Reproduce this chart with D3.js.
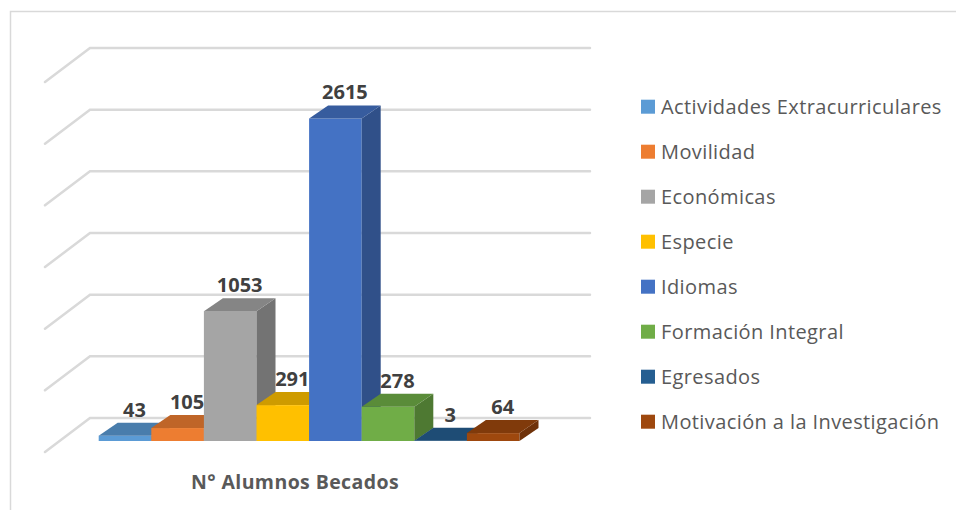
<!DOCTYPE html>
<html lang="es">
<head>
  <meta charset="UTF-8">
  <title>N° Alumnos Becados</title>
  <script src="https://d3js.org/d3.v7.min.js"></script>
  <style>
    body { margin: 0; background: #fff; }
    text { font-family: "Open Sans", sans-serif; }
    .grid { stroke: #d9d9d9; stroke-width: 2.5px; fill: none; stroke-linecap: round; }
    .label { font-size: 20px; font-weight: bold; fill: #404040; text-anchor: middle; }
    .legend { font-size: 20px; letter-spacing: 0.4px; fill: #595959; }
    .title { font-size: 19.5px; letter-spacing: 0.4px; font-weight: bold; fill: #595959; text-anchor: middle; }
  </style>
</head>
<body>
  <svg id="chart"></svg>
  <script>
    const categories = ["Actividades Extracurriculares", "Movilidad", "Económicas", "Especie",
      "Idiomas", "Formación Integral", "Egresados", "Motivación a la Investigación"];
    const values = [43, 105, 1053, 291, 2615, 278, 3, 64];
    const colors = ["#5b9bd5", "#ed7d31", "#a5a5a5", "#ffc000", "#4472c4", "#70ad47", "#255e91", "#9e480e"];
    const gridTicks = [0, 500, 1000, 1500, 2000, 2500, 3000];

    const width = 956, height = 510;
    const svg = d3.select("#chart").attr("width", width).attr("height", height);

    // frame (only top and left edges are in view)
    svg.append("path")
      .attr("d", "M10.5,510 L10.5,11.5 L956,11.5")
      .attr("fill", "none")
      .attr("stroke", "#d9d9d9")
      .attr("stroke-width", 1.5);

    // back wall + floor depth
    const wallLeft = 90, wallRight = 590;
    const wallDx = -45, wallDy = 34;
    const yWall = d3.scaleLinear().domain([0, 3000]).range([418, 48]);

    svg.selectAll(".grid")
      .data(gridTicks)
      .enter().append("path")
      .attr("class", "grid")
      .attr("d", d => `M${wallLeft + wallDx},${yWall(d) + wallDy} L${wallLeft},${yWall(d)} L${wallRight},${yWall(d)}`);

    // bars (front face) and their depth
    const x = d3.scaleBand().domain(categories).range([98.7, 519.5]).padding(0);
    const yFront = d3.scaleLinear().domain([0, 3000]).range([441, 71]);
    const bdx = 19, bdy = -13;

    const bars = svg.selectAll(".bar")
      .data(categories)
      .enter().append("g")
      .attr("class", "bar");

    bars.each(function(c, i) {
      const g = d3.select(this);
      const x0 = x(c), x1 = x(c) + x.bandwidth();
      const y0 = yFront(0), y1 = yFront(values[i]);
      const base = d3.color(colors[i]);
      // front
      g.append("rect")
        .attr("x", x0).attr("y", y1)
        .attr("width", x1 - x0).attr("height", y0 - y1)
        .attr("fill", base);
      // side
      g.append("path")
        .attr("d", `M${x1},${y0} L${x1 + bdx},${y0 + bdy} L${x1 + bdx},${y1 + bdy} L${x1},${y1} Z`)
        .attr("fill", base.darker(1));
      // top
      g.append("path")
        .attr("d", `M${x0},${y1} L${x1},${y1} L${x1 + bdx},${y1 + bdy} L${x0 + bdx},${y1 + bdy} Z`)
        .attr("fill", base.darker(0.6));
    });

    svg.selectAll(".label")
      .data(categories)
      .enter().append("text")
      .attr("class", "label")
      .attr("x", d => x(d) + x.bandwidth() / 2 + bdx / 2)
      .attr("y", (d, i) => yFront(values[i]) + bdy - 6)
      .text((d, i) => values[i]);

    // axis title
    svg.append("text")
      .attr("class", "title")
      .attr("x", 295)
      .attr("y", 489)
      .text("N° Alumnos Becados");

    // legend
    const legend = svg.selectAll(".leg")
      .data(categories)
      .enter().append("g")
      .attr("class", "leg")
      .attr("transform", (d, i) => `translate(641,${106.7 + i * 45})`);

    legend.append("rect")
      .attr("x", 0).attr("y", -7)
      .attr("width", 14).attr("height", 14)
      .attr("fill", (d, i) => colors[i]);

    legend.append("text")
      .attr("class", "legend")
      .attr("x", 20)
      .attr("y", 0)
      .attr("dy", "0.35em")
      .text(d => d);
  </script>
</body>
</html>
